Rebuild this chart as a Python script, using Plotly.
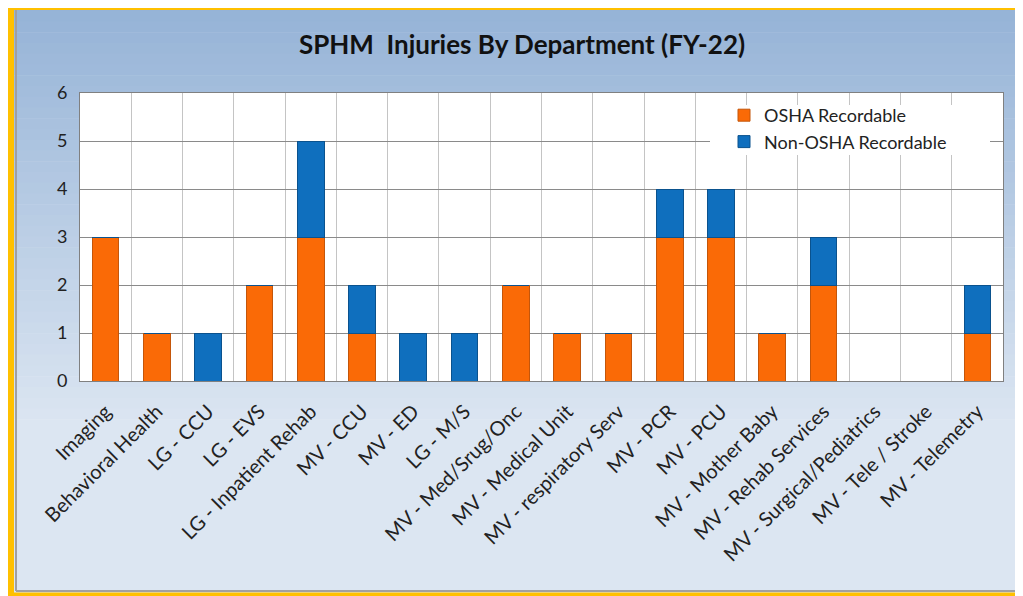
import plotly.graph_objects as go

departments = ["Imaging", "Behavioral Health", "LG - CCU", "LG - EVS", "LG - Inpatient Rehab",
               "MV - CCU", "MV - ED", "LG - M/S", "MV - Med/Srug/Onc", "MV - Medical Unit",
               "MV - respiratory Serv", "MV - PCR", "MV - PCU", "MV - Mother Baby",
               "MV - Rehab Services", "MV - Surgical/Pediatrics", "MV - Tele / Stroke", "MV - Telemetry"]
osha = [3, 1, 0, 2, 3, 1, 0, 0, 2, 1, 1, 3, 3, 1, 2, 0, 0, 1]
non_osha = [0, 0, 1, 0, 2, 1, 1, 1, 0, 0, 0, 1, 1, 0, 1, 0, 0, 1]
y_ticks = [0, 1, 2, 3, 4, 5, 6]

# page has an 8px body margin: figure coords = screen coords - 8
OFF = 8
W, H = 1023 - OFF, 596 - OFF
L, T = 80 - OFF, 93 - OFF
PW, PH = 1003 - 80, 381 - 93
R, B = W - L - PW, H - T - PH

def px(sx):
    return (sx - OFF - L) / PW

def py(sy):
    return (T + PH - (sy - OFF)) / PH

FONT = "Lato"

fig = go.Figure()
fig.add_trace(go.Bar(x=departments, y=osha, name="OSHA Recordable",
                     marker=dict(color="#fa6a06", line=dict(color="#c4560a", width=1))))
fig.add_trace(go.Bar(x=departments, y=non_osha, name="Non-OSHA Recordable",
                     marker=dict(color="#0f6fbe", line=dict(color="#0a528e", width=1))))

shapes = []
top = (149, 179, 215)
bot = (220, 230, 242)
n = 40
g0, g1 = 0, 430
for i in range(n):
    y0 = g0 + i * (g1 - g0) / n
    y1 = g0 + (i + 1) * (g1 - g0) / n
    t = i / (n - 1)
    c = tuple(int(top[k] + (bot[k] - top[k]) * t) for k in range(3))
    shapes.append(dict(type="rect", xref="paper", yref="paper", x0=px(0), x1=px(1030),
                       y0=py(y1 + 0.5), y1=py(y0), fillcolor="rgb(%d,%d,%d)" % c,
                       line=dict(width=0), layer="below"))
shapes.append(dict(type="rect", xref="paper", yref="paper", x0=px(0), x1=px(1030),
                   y0=py(600), y1=py(g1), fillcolor="rgb(%d,%d,%d)" % bot,
                   line=dict(width=0), layer="below"))
shapes.append(dict(type="rect", xref="paper", yref="paper", x0=0, x1=1, y0=0, y1=1,
                   fillcolor="white", line=dict(width=0), layer="below"))
# white box behind legend (hides gridlines)
shapes.append(dict(type="rect", xref="paper", yref="paper", x0=px(710), x1=px(990),
                   y0=py(155), y1=py(105), fillcolor="white", line=dict(width=0), layer="above"))

def seg(x0, y0, x1, y1, color, width):
    shapes.append(dict(type="line", xref="paper", yref="paper", x0=px(x0), x1=px(x1),
                       y0=py(y0), y1=py(y1), line=dict(color=color, width=width)))

# gray inner frame (left and bottom)
seg(16, 10, 16, 591, "#a0a0a0", 2)
seg(16, 591, 1030, 591, "#a0a0a0", 2)
# gold border (left, top, bottom)
seg(10.5, 0, 10.5, 600, "#ffc000", 7)
seg(7, 6.5, 1030, 6.5, "#ffc000", 7)
seg(7, 594.5, 1030, 594.5, "#ffc000", 4)

fig.update_layout(
    width=W, height=H,
    margin=dict(l=L, r=R, t=T, b=B, autoexpand=False),
    paper_bgcolor="white", plot_bgcolor="rgba(0,0,0,0)",
    barmode="stack", bargap=0.48,
    shapes=shapes,
    title=dict(text="<b>SPHM\u00a0\u00a0Injuries By Department (FY-22)</b>",
               x=(522 - OFF) / W, xanchor="center", y=1 - (45 - OFF) / H, yanchor="middle",
               font=dict(family=FONT, size=26, color="#111111")),
    font=dict(family=FONT, color="#222222"),
    legend=dict(x=px(724), y=py(97), xanchor="left", yanchor="top",
                bgcolor="rgba(255,255,255,0)", font=dict(size=18, family=FONT, color="#222"),
                itemwidth=30, traceorder="normal"),
    xaxis=dict(type="category", tickson="boundaries", showgrid=True, gridcolor="#c4c4c4",
               gridwidth=1, tickangle=-45, tickfont=dict(size=20, family=FONT, color="#222"),
               linecolor="#808080", showline=True, mirror=True, ticks="", ticklen=0,
               ticklabelstandoff=10, automargin=False),
    yaxis=dict(range=[0, 6], tickvals=y_ticks, showgrid=True, gridcolor="#8a8a8a",
               gridwidth=1, tickfont=dict(size=18, family=FONT, color="#222"),
               linecolor="#808080", showline=True, mirror=True, ticks="", zeroline=False,
               ticklabelstandoff=8, automargin=False),
)

fig.write_html("out.html")
